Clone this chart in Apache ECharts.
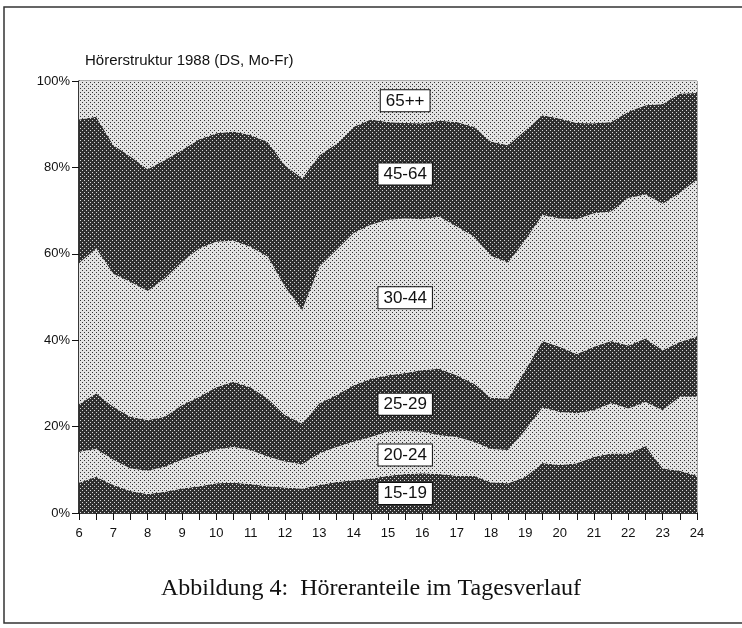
<!DOCTYPE html>
<html>
<head>
<meta charset="utf-8">
<title>Hörerstruktur 1988</title>
<script src="https://cdn.jsdelivr.net/npm/echarts@6/dist/echarts.min.js"></script>
<style>
  html, body { margin: 0; padding: 0; background: #fff; }
  #chart { width: 742px; height: 628px; }
</style>
</head>
<body>
<div id="chart"></div>
<script>
// Uhrzeit (halbstündlich 6 - 24)
var hours = ['6', '6.5', '7', '7.5', '8', '8.5', '9', '9.5', '10', '10.5', '11', '11.5', '12', '12.5', '13', '13.5', '14', '14.5', '15',
  '15.5', '16', '16.5', '17', '17.5', '18', '18.5', '19', '19.5', '20', '20.5', '21', '21.5', '22', '22.5', '23', '23.5', '24']

// Anteile je Altersgruppe in %
var age15_19 = [7.0, 8.4, 6.5, 5.1, 4.4, 4.9, 5.7, 6.2, 6.9, 7.0, 6.7, 6.2, 5.9, 5.7, 6.5, 7.2, 7.6, 7.9, 8.6,
  9.0, 9.2, 9.0, 8.6, 8.6, 7.1, 6.9, 8.4, 11.6, 11.1, 11.5, 13.0, 13.8, 13.8, 15.5, 10.3, 9.8, 8.6]
var age20_24 = [7.2, 6.4, 5.8, 5.2, 5.4, 5.8, 6.6, 7.4, 7.8, 8.3, 7.9, 6.8, 6.0, 5.6, 7.3, 8.1, 8.9, 9.7, 10.2,
  10.0, 9.6, 9.0, 9.0, 7.9, 7.7, 7.7, 10.8, 12.8, 12.3, 11.6, 10.8, 11.6, 10.4, 10.2, 13.5, 17.1, 18.3]
var age25_29 = [11.0, 12.9, 12.3, 12.0, 11.7, 11.6, 12.7, 13.3, 14.4, 15.1, 14.5, 13.5, 10.8, 9.4, 11.6, 12.0, 13.1, 13.5, 13.1,
  13.4, 14.3, 15.4, 14.3, 13.5, 11.9, 11.9, 13.9, 15.4, 15.1, 13.7, 14.7, 14.4, 14.6, 14.7, 13.9, 12.7, 13.9]
var age30_44 = [32.6, 33.5, 30.8, 31.2, 29.9, 32.0, 33.1, 34.3, 33.7, 32.6, 32.5, 32.8, 29.7, 26.3, 31.6, 33.6, 35.2, 35.6, 36.0,
  35.8, 34.9, 35.2, 34.4, 34.0, 32.8, 31.5, 30.1, 29.2, 29.7, 31.2, 30.9, 30.0, 34.1, 33.3, 33.9, 34.5, 36.4]
var age45_64 = [33.3, 30.5, 29.8, 29.0, 28.2, 27.4, 25.9, 25.3, 25.1, 25.3, 25.9, 26.6, 28.1, 30.5, 25.8, 24.6, 24.6, 24.4, 22.6,
  22.1, 22.2, 22.2, 24.2, 25.4, 26.5, 27.1, 25.4, 23.1, 23.1, 22.3, 20.8, 20.7, 20.0, 20.7, 23.1, 23.0, 20.0]
var age65plus = [8.9, 8.3, 14.8, 17.5, 20.4, 18.3, 16.0, 13.5, 12.1, 11.7, 12.5, 14.1, 19.5, 22.5, 17.2, 14.5, 10.6, 8.9, 9.5,
  9.7, 9.8, 9.2, 9.5, 10.6, 14.0, 14.9, 11.4, 7.9, 8.7, 9.7, 9.8, 9.5, 7.1, 5.6, 5.3, 2.9, 2.8]

var groups = ['15-19', '20-24', '25-29', '30-44', '45-64', '65++']
var groupData = [age15_19, age20_24, age25_29, age30_44, age45_64, age65plus]
// Position der Beschriftung (Wert auf der y-Achse)
var labelY = [4.5, 13.4, 25.2, 49.8, 78.5, 95.4]
var labelX = '15.5'

// Raster wie im Druck
function makePattern(bg, dot) {
  var c = document.createElement('canvas')
  c.width = 4
  c.height = 4
  var ctx = c.getContext('2d')
  ctx.fillStyle = bg
  ctx.fillRect(0, 0, 4, 4)
  ctx.fillStyle = dot
  ctx.fillRect(0, 0, 1, 1)
  ctx.fillRect(2, 2, 1, 1)
  return { image: c, repeat: 'repeat' }
}

var font = "'Liberation Sans', Arial, sans-serif"

var series = groups.map(function (name, i) {
  var fill = i % 2 === 0 ? makePattern('#303030', '#d8d8d8') : makePattern('#e2e2e2', '#333333')
  return {
    name: name,
    type: 'line',
    stack: 'total',
    symbol: 'none',
    lineStyle: { width: 0 },
    areaStyle: { color: fill, opacity: 1 },
    data: groupData[i],
    z: 2,
    markPoint: {
      symbol: 'rect',
      symbolSize: 0,
      silent: true,
      label: {
        show: true,
        position: 'inside',
        formatter: name,
        color: '#111',
        fontFamily: font,
        fontSize: 17,
        backgroundColor: '#fff',
        borderColor: '#111',
        borderWidth: 1,
        padding: [3, 5, 1, 5]
      },
      data: [{ coord: [labelX, labelY[i]] }]
    }
  }
})

var myChart = echarts.init(document.getElementById('chart'), null, { renderer: 'canvas' })
var option = {
  animation: false,
  backgroundColor: '#fff',
  grid: {
    left: 79, right: 45, top: 81, bottom: 115,
    show: true, borderColor: '#555', borderWidth: 1, backgroundColor: 'transparent'
  },
  title: [{
    text: 'Hörerstruktur 1988 (DS, Mo-Fr)',
    left: 80, top: 48,
    textStyle: { fontFamily: font, fontSize: 15, fontWeight: 'normal', color: '#111' }
  }, {
    text: 'Abbildung 4:  Höreranteile im Tagesverlauf',
    left: 'center', top: 572,
    textStyle: { fontFamily: "'Liberation Serif', 'Times New Roman', serif", fontSize: 24, fontWeight: 'normal', color: '#111' }
  }],
  graphic: [{
    type: 'rect',
    shape: { x: 4, y: 7, width: 770, height: 616 },
    style: { fill: 'none', stroke: '#333', lineWidth: 1.5 },
    silent: true
  }],
  xAxis: {
    type: 'category',
    data: hours,
    boundaryGap: false,
    axisLine: { lineStyle: { color: '#111', width: 1.5 } },
    axisTick: { interval: 0, length: 7, lineStyle: { color: '#111' } },
    splitLine: { show: false },
    axisLabel: { interval: 1, color: '#111', fontFamily: font, fontSize: 13, margin: 14 }
  },
  yAxis: {
    type: 'value',
    min: 0, max: 100, interval: 20,
    axisLine: { show: true, lineStyle: { color: '#111', width: 1.5 } },
    axisTick: { show: true, length: 7, lineStyle: { color: '#111' } },
    splitLine: { show: false },
    axisLabel: { color: '#111', fontFamily: font, fontSize: 13, margin: 9, formatter: '{value}%' }
  },
  series: series
}
myChart.setOption(option)
window.addEventListener('resize', function () {
  myChart.resize()
})
</script>
</body>
</html>
